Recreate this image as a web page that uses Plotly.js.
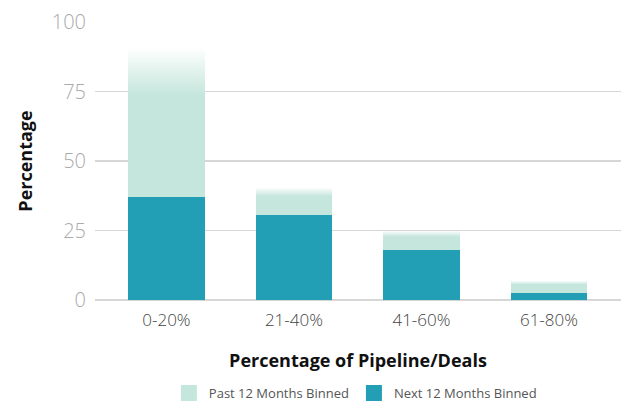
<!DOCTYPE html>
<html>
<head>
<meta charset="utf-8">
<script src="https://cdn.plot.ly/plotly-3.0.1.min.js"></script>
<style>html,body{margin:0;padding:0;background:#fff;}#chart{width:621px;height:403px;}</style>
</head>
<body>
<div id="chart"></div>
<script>
const categories = ["0-20%", "21-40%", "41-60%", "61-80%"];
const nextValues = [37, 30.5, 18, 2.5];
const pastValues = [54, 10, 7, 4.5];   // stacked on top of next
const seriesNames = ["Past 12 Months Binned", "Next 12 Months Binned"];
const yTicks = [0, 25, 50, 75, 100];

const colPast = "#c5e6dc";
const colNext = "#229fb5";
const FONT = "Open Sans, Lato, sans-serif";

const data = [
  {type: "bar", x: categories, y: nextValues, name: seriesNames[1],
   marker: {color: colNext, line: {width: 0}}, showlegend: false, hoverinfo: "skip"},
  {type: "bar", x: categories, y: pastValues, name: seriesNames[0],
   marker: {color: colPast, line: {width: 0}}, showlegend: false, hoverinfo: "skip"},
  {type: "scatter", mode: "markers", x: [null], y: [null], name: seriesNames[0],
   marker: {symbol: "square", size: 20, color: colPast}},
  {type: "scatter", mode: "markers", x: [null], y: [null], name: seriesNames[1],
   marker: {symbol: "square", size: 20, color: colNext}}
];

const layout = {
  width: 621, height: 403,
  margin: {l: 95, r: 0, t: 22, b: 103},
  paper_bgcolor: "#fff", plot_bgcolor: "#fff",
  barmode: "stack", bargap: 0.4,
  font: {family: FONT, color: "#444"},
  xaxis: {
    type: "category", range: [-0.56, 3.565],
    showgrid: false, zeroline: false, showline: false, ticks: "",
    ticklabelstandoff: 8,
    tickfont: {size: 17, color: "#444", family: FONT, weight: 300},
    title: {text: "Percentage of Pipeline/Deals", font: {size: 18, color: "#111", family: FONT, weight: 700}, standoff: 24}
  },
  yaxis: {
    range: [0, 100], tickvals: yTicks, ticktext: yTicks.map(String),
    showgrid: true, gridcolor: "#d6d6d6", gridwidth: 1.5,
    zeroline: true, zerolinecolor: "#d6d6d6", zerolinewidth: 1.5,
    showline: false, ticks: "", ticklabelstandoff: 8,
    tickfont: {size: 20, color: "#aaaaaa", family: FONT, weight: 300},
    title: {text: "Percentage", font: {size: 18, color: "#111", family: FONT, weight: 700}, standoff: 14}
  },
  showlegend: true,
  legend: {orientation: "h", x: 0.495, xanchor: "center", yref: "container", y: 0.025, yanchor: "middle",
    font: {size: 13, color: "#555", family: FONT}, itemsizing: "trace", traceorder: "normal"}
};

function applyFade(gd) {
  const svg = gd.querySelector(".main-svg");
  const NS = "http://www.w3.org/2000/svg";
  let defs = svg.querySelector("defs");
  if (!defs) { defs = document.createElementNS(NS, "defs"); svg.insertBefore(defs, svg.firstChild); }
  const grad = document.createElementNS(NS, "linearGradient");
  grad.setAttribute("id", "pastFade");
  grad.setAttribute("x1", "0"); grad.setAttribute("y1", "0");
  grad.setAttribute("x2", "0"); grad.setAttribute("y2", "1");
  [["0", "#ffffff"], ["0.32", colPast], ["1", colPast]].forEach(([o, c]) => {
    const s = document.createElementNS(NS, "stop");
    s.setAttribute("offset", o); s.setAttribute("stop-color", c);
    grad.appendChild(s);
  });
  defs.appendChild(grad);
  const traces = gd.querySelectorAll(".barlayer .trace");
  if (traces.length > 1) {
    traces[1].querySelectorAll("path").forEach(p => { p.style.fill = "url(#pastFade)"; });
  }
}

Plotly.newPlot("chart", data, layout, {displayModeBar: false, staticPlot: true})
  .then(gd => applyFade(gd));
</script>
</body>
</html>
